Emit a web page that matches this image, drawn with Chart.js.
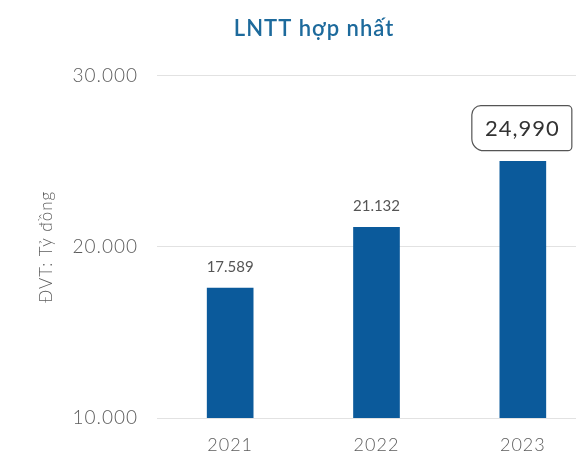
<!DOCTYPE html>
<html>
<head>
<meta charset="utf-8">
<script src="https://cdn.jsdelivr.net/npm/chart.js@4"></script>
<style>
  html, body { margin: 0; padding: 0; background: #fff; overflow: hidden; }
  #wrap { width: 620px; height: 456px; }
</style>
</head>
<body>
<div id="wrap"><canvas id="barChart" width="620" height="456"></canvas></div>
<script>
// LNTT hợp nhất theo năm (tỷ đồng)
const years = ["2021", "2022", "2023"];
const profit = [17589, 21132, 24990];
const yTicks = [10000, 20000, 30000];
const highlightIndex = 2;

const FONT = "Lato, sans-serif";
const fmtDot = v => v.toLocaleString("de-DE");
const fmtComma = v => v.toLocaleString("en-US");

// giãn chữ nhẹ cho toàn bộ text của biểu đồ
const spacing = {
  id: "spacing",
  beforeDraw(chart) { chart.ctx.letterSpacing = "1px"; },
  afterDraw(chart) { chart.ctx.letterSpacing = "0px"; }
};

// ghi giá trị lên đầu cột, năm cuối có khung
const valueLabels = {
  id: "valueLabels",
  afterDatasetsDraw(chart) {
    const ctx = chart.ctx;
    const meta = chart.getDatasetMeta(0);
    ctx.save();
    ctx.textAlign = "center";
    ctx.textBaseline = "middle";
    meta.data.forEach((bar, i) => {
      const v = profit[i];
      if (i === highlightIndex) {
        ctx.letterSpacing = "1px";
        ctx.font = "22px " + FONT;
        const txt = fmtComma(v);
        const w = 100;
        const h = 45;
        const cx = bar.x - 1;
        const cy = bar.y - 33;
        ctx.beginPath();
        ctx.roundRect(cx - w / 2, cy - h / 2, w, h, [9, 4, 4, 12]);
        ctx.strokeStyle = "#555";
        ctx.lineWidth = 1.2;
        ctx.stroke();
        ctx.fillStyle = "#333";
        ctx.fillText(txt, cx + 0.5, cy + 1);
      } else {
        ctx.letterSpacing = "0px";
        ctx.font = "15px " + FONT;
        ctx.fillStyle = "#555";
        ctx.fillText(fmtDot(v), bar.x, bar.y - 21);
      }
    });
    ctx.restore();
  }
};

const ctxBar = document.getElementById("barChart").getContext("2d");
const barChart = new Chart(ctxBar, {
  type: "bar",
  data: {
    labels: years,
    datasets: [{
      data: profit,
      backgroundColor: "#0B5A9B",
      barThickness: 46
    }]
  },
  options: {
    responsive: false,
    animation: false,
    layout: { padding: { left: 32, right: 24, top: 0, bottom: 0 } },
    plugins: {
      legend: { display: false },
      tooltip: { enabled: false },
      title: {
        display: true,
        text: "LNTT hợp nhất",
        color: "#1D6A9C",
        font: { family: FONT, size: 22, weight: "600" },
        padding: { top: 16, bottom: 33 }
      }
    },
    scales: {
      x: {
        grid: { display: false, drawTicks: false },
        border: { display: false },
        ticks: { color: "#5c5c5c", font: { family: FONT, size: 18, weight: "300" }, padding: 16 },
        afterFit(scale) { scale.height = 38; }
      },
      y: {
        min: 10000,
        max: 30000,
        afterBuildTicks(scale) { scale.ticks = yTicks.map(v => ({ value: v })); },
        grid: { color: "#e2e2e2", drawTicks: false },
        border: { display: false },
        ticks: {
          color: "#5c5c5c",
          font: { family: FONT, size: 19, weight: "300" },
          padding: 19,
          callback: v => fmtDot(v)
        },
        title: {
          display: true,
          text: "ĐVT: Tỷ đồng",
          color: "#5c5c5c",
          font: { family: FONT, size: 17, weight: "300" }
        },
        afterFit(scale) { scale.width = 125; }
      }
    }
  },
  plugins: [spacing, valueLabels]
});
</script>
</body>
</html>
